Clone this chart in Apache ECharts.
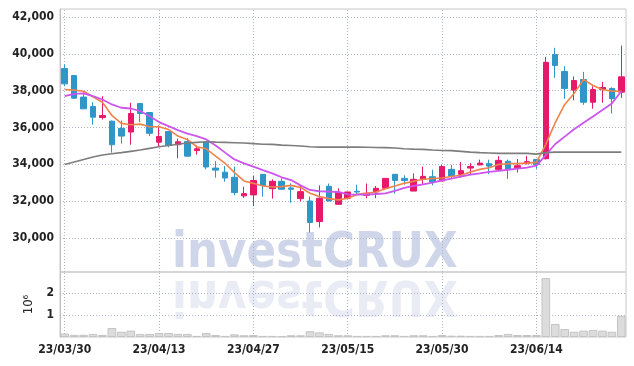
<!DOCTYPE html>
<html>
<head>
<meta charset="utf-8">
<script src="https://cdn.jsdelivr.net/npm/echarts@6/dist/echarts.min.js"></script>
<style>
  html, body { margin: 0; padding: 0; background: #fff; }
  #chart { width: 634px; height: 366px; }
</style>
</head>
<body>
<div id="chart"></div>
<script>
// trading days
var dates = ['23/03/30','23/03/31','23/04/03','23/04/04','23/04/05','23/04/06','23/04/07','23/04/10','23/04/11','23/04/12',
  '23/04/13','23/04/14','23/04/17','23/04/18','23/04/19','23/04/20','23/04/21','23/04/24','23/04/25','23/04/26',
  '23/04/27','23/04/28','23/05/02','23/05/03','23/05/04','23/05/08','23/05/09','23/05/10','23/05/11','23/05/12',
  '23/05/15','23/05/16','23/05/17','23/05/18','23/05/19','23/05/22','23/05/23','23/05/24','23/05/25','23/05/26',
  '23/05/30','23/05/31','23/06/01','23/06/02','23/06/05','23/06/07','23/06/08','23/06/09','23/06/12','23/06/13',
  '23/06/14','23/06/15','23/06/16','23/06/19','23/06/20','23/06/21','23/06/22','23/06/23','23/06/26','23/06/27'];

var opens  = [39200,38820,37650,37140,36540,36340,35950,35750,37300,36810,
              35200,35780,35060,35240,34740,35200,33790,33570,33290,32280,
              32330,33450,32670,33070,32710,32130,32000,30880,32800,31820,
              32150,32530,32310,32490,32690,33450,33230,32540,33180,33320,
              33090,33720,33450,33790,33960,34030,33720,34160,33810,34030,
              34260,34300,39960,39040,38030,38610,37370,38060,38120,37920];
var closes = [38370,37590,37010,36560,36650,35060,35530,36760,36760,35680,
              35510,35020,35220,34440,34840,33850,33680,33250,32460,32400,
              33120,32850,33070,32640,32640,32510,30830,32150,32000,32470,
              32490,32490,32420,32690,33230,33120,33120,33180,33340,33030,
              33880,33360,33650,33880,34060,33900,34210,33740,33920,34140,
              33980,39540,39370,38120,38550,37370,38060,38170,37560,38750];
var lows   = [38240,37560,37000,36150,36430,34630,35120,35060,36290,35530,
              34990,34920,34330,34420,34520,33720,33270,33050,32310,32170,
              31730,32240,32130,32600,31910,31980,30290,30560,31990,31800,
              32100,32370,32150,32150,32680,32400,32890,32540,32890,32850,
              33080,33250,33270,33450,33950,33460,33610,33200,33550,33990,
              33750,34260,38700,37560,37480,37230,37020,37340,36760,37610];
var highs  = [39420,38850,37900,37370,37700,36380,36380,37340,37320,36830,
              36110,35800,35390,35420,35020,35230,34170,33900,33870,32780,
              33360,33460,33180,33230,32960,32870,32240,32850,32950,32690,
              32500,32890,32950,32820,33250,33450,33400,33500,33870,33700,
              33960,33960,34120,34060,34250,34250,34440,34250,34280,34460,
              34270,39840,40330,39330,38780,39020,38240,38480,38180,40450];

// moving averages
var ma5  = [38060,38030,37970,37670,37370,36650,36220,36150,36180,36040,
            36040,35890,35530,35350,34950,34840,34440,34050,33540,33090,
            32960,32820,32760,32780,32850,32740,32420,32240,32130,32060,
            32150,32360,32420,32490,32670,32820,32960,33070,33180,33220,
            33250,33330,33400,33580,33720,33810,33990,34030,34030,34060,
            34100,35080,36260,37250,37850,38610,38280,38060,37970,37970];
var ma10 = [37700,37830,37850,37700,37520,37250,37070,37030,36890,36610,
            36290,36070,35850,35660,35530,35350,35020,34630,34260,34050,
            33870,33680,33500,33290,33140,32850,32600,32530,32510,32490,
            32360,32350,32350,32380,32420,32550,32710,32820,32910,33000,
            33120,33220,33330,33430,33500,33580,33640,33700,33760,33820,
            33920,34500,35100,35500,35900,36250,36600,36950,37300,37970];
var maLong = [33990,34120,34260,34390,34500,34570,34630,34700,34770,34860,
              34950,35020,35090,35150,35190,35220,35200,35190,35170,35150,
              35120,35090,35080,35040,35020,34990,34950,34930,34930,34930,
              34930,34930,34920,34910,34900,34880,34840,34820,34810,34770,
              34750,34740,34700,34660,34630,34610,34590,34590,34600,34590,
              34550,34630,34660,34660,34660,34660,34660,34660,34660,34660];

// volume, millions of shares
var volumes = [0.16,0.10,0.10,0.14,0.09,0.41,0.24,0.29,0.14,0.14,
               0.18,0.18,0.14,0.14,0.05,0.18,0.09,0.05,0.12,0.08,
               0.09,0.05,0.05,0.04,0.08,0.08,0.26,0.21,0.14,0.08,
               0.08,0.05,0.05,0.05,0.08,0.08,0.05,0.08,0.08,0.05,
               0.09,0.06,0.06,0.05,0.05,0.05,0.09,0.14,0.09,0.09,
               0.09,2.68,0.59,0.36,0.24,0.29,0.32,0.29,0.24,0.97];

var priceTicks = [30000, 32000, 34000, 36000, 38000, 40000, 42000];
var volumeTicks = [1, 2];
var labelDates = ['23/03/30','23/04/13','23/04/27','23/05/15','23/05/30','23/06/14'];

var candles = dates.map(function (d, i) {
    return [opens[i], closes[i], lows[i], highs[i]];
});

var FONT = '"DejaVu Sans Condensed", "DejaVu Sans", sans-serif';
var DOTS = { type: [1, 2], color: '#afb3c6', width: 1 };

// horizontal + vertical dotted guides, drawn behind the candles
var priceGuides = {
    silent: true, symbol: 'none', z: 1, precision: 0,
    label: { show: false },
    lineStyle: DOTS,
    data: labelDates.map(function (d) { return { xAxis: d }; })
        .concat(priceTicks.map(function (v) { return { yAxis: v }; }))
};
var volumeGuides = {
    silent: true, symbol: 'none', z: 1,
    label: { show: false },
    lineStyle: DOTS,
    data: labelDates.map(function (d) { return { xAxis: d }; })
        .concat(volumeTicks.map(function (v) { return { yAxis: v }; }))
};

var myChart = echarts.init(document.getElementById('chart'));
myChart.setOption({
    animation: false,
    backgroundColor: '#fff',
    grid: [
        { left: 60, right: 8, top: 9, height: 263, show: true, borderColor: '#c8c8c8', borderWidth: 1 },
        { left: 60, right: 8, top: 272, height: 65, show: true, borderColor: '#c8c8c8', borderWidth: 1 }
    ],
    xAxis: [
        {
            type: 'category', gridIndex: 0, data: dates, boundaryGap: true,
            axisLine: { show: false }, axisTick: { show: false }, axisLabel: { show: false },
            splitLine: { show: false }
        },
        {
            type: 'category', gridIndex: 1, data: dates, boundaryGap: true,
            axisLine: { show: false }, axisTick: { show: false },
            axisLabel: { interval: 9, color: '#222', fontFamily: FONT, fontWeight: 'bold', fontSize: 12, margin: 7 },
            splitLine: { show: false }
        }
    ],
    yAxis: [
        {
            type: 'value', gridIndex: 0, min: 28140, max: 42440,
            axisLine: { show: true, lineStyle: { color: '#c0c0c0' } },
            axisTick: { show: false, customValues: priceTicks },
            axisLabel: {
                customValues: priceTicks, color: '#222', fontFamily: FONT, fontWeight: 'bold', fontSize: 12, margin: 6,
                formatter: function (v) { return v.toLocaleString('en-US'); }
            },
            splitLine: { show: false }
        },
        {
            type: 'value', gridIndex: 1, min: 0, max: 2.955,
            name: '10\u2076', nameLocation: 'middle', nameRotate: 90, nameGap: 24,
            nameTextStyle: { color: '#222', fontFamily: FONT, fontSize: 13 },
            axisLine: { show: true, lineStyle: { color: '#c0c0c0' } },
            axisTick: { show: false, customValues: volumeTicks },
            axisLabel: { customValues: volumeTicks, color: '#222', fontFamily: FONT, fontWeight: 'bold', fontSize: 12, margin: 6 },
            splitLine: { show: false }
        }
    ],
    graphic: [
        {
            type: 'text', x: 172, y: 254, z: 1, scaleX: 0.97,
            style: { text: 'investCRUX', fontFamily: FONT, fontWeight: 'bold', fontSize: 50,
                     fill: '#d0d6ea', verticalAlign: 'middle' }
        },
        {
            type: 'text', x: 172, y: 294, z: 1, scaleX: 0.97, scaleY: -1,
            style: { text: 'investCRUX', fontFamily: FONT, fontWeight: 'bold', fontSize: 50,
                     fill: '#e9ecf4', verticalAlign: 'middle' }
        }
    ],
    series: [
        {
            name: 'price', type: 'candlestick', xAxisIndex: 0, yAxisIndex: 0,
            data: candles, barWidth: 6,
            itemStyle: {
                color: '#e6196a', color0: '#2f96c8',
                borderColor: '#e6196a', borderColor0: '#2f96c8', borderWidth: 1
            },
            markLine: priceGuides
        },
        {
            name: 'MA5', type: 'line', xAxisIndex: 0, yAxisIndex: 0, data: ma5,
            symbol: 'none', z: 3,
            lineStyle: { color: '#ee844c', width: 1.6 }
        },
        {
            name: 'MA10', type: 'line', xAxisIndex: 0, yAxisIndex: 0, data: ma10,
            symbol: 'none', z: 3,
            lineStyle: { color: '#cc55ee', width: 1.8 }
        },
        {
            name: 'MA long', type: 'line', xAxisIndex: 0, yAxisIndex: 0, data: maLong,
            symbol: 'none', z: 3,
            lineStyle: { color: '#7d7d7d', width: 1.6 }
        },
        {
            name: 'volume', type: 'bar', xAxisIndex: 1, yAxisIndex: 1, data: volumes,
            barCategoryGap: '8%',
            itemStyle: { color: '#dcdcdc', borderColor: '#c4c4c4', borderWidth: 1 },
            markLine: volumeGuides
        }
    ]
});
window.addEventListener('resize', function () { myChart.resize(); });
</script>
</body>
</html>
